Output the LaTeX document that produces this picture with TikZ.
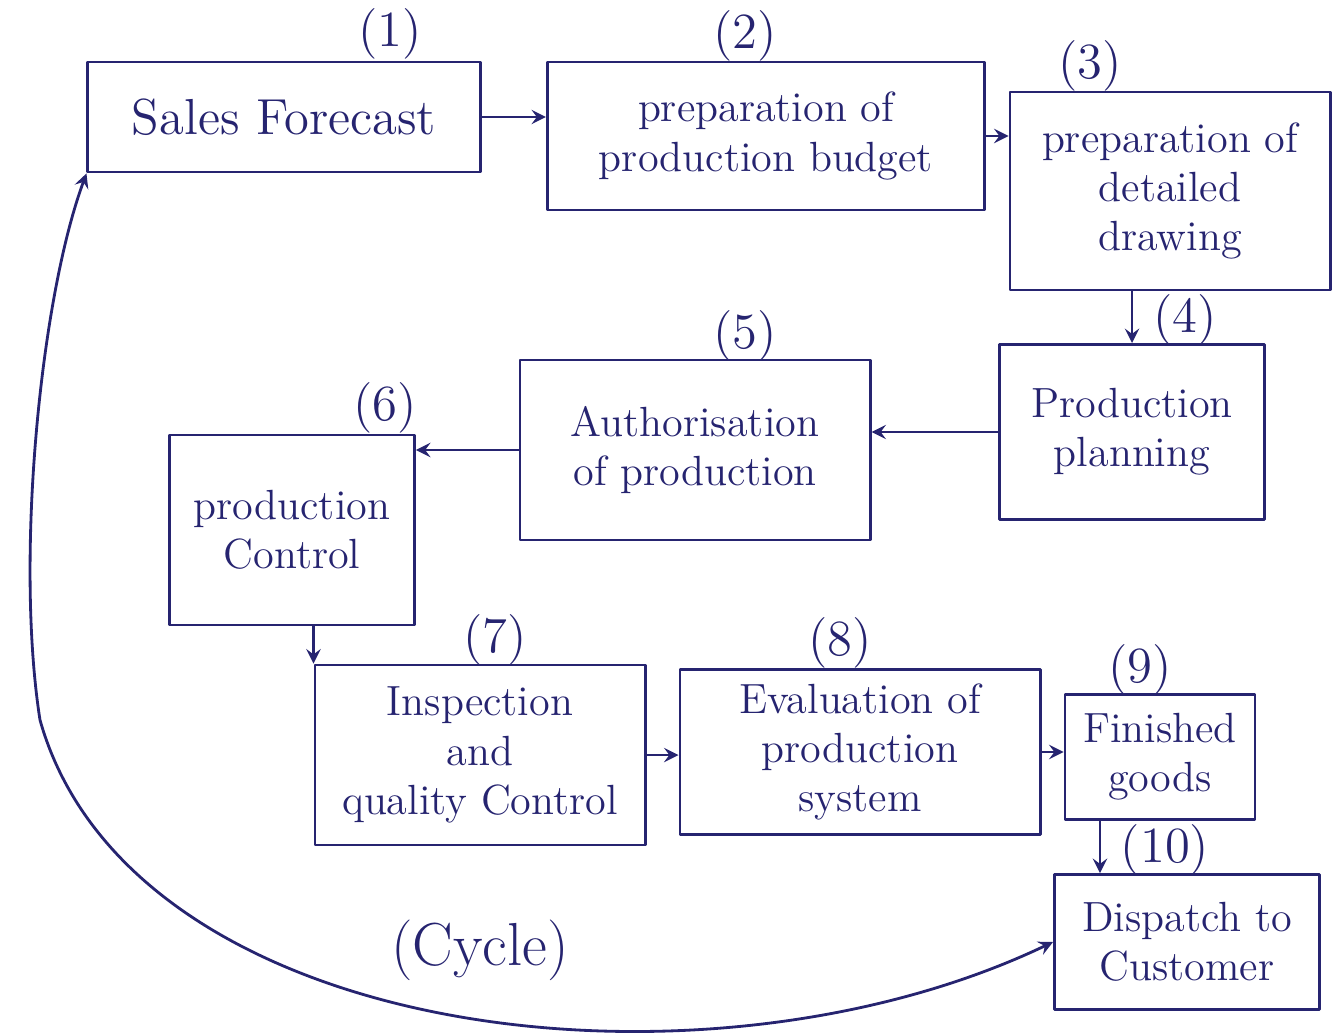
\documentclass[tikz,border=0pt]{standalone}
\usetikzlibrary{arrows.meta}
\definecolor{ink}{RGB}{38,36,112}
\begin{document}
\begin{tikzpicture}[line cap=round, line join=round, >=stealth, font=\large, x=0.01cm, y=-0.01cm,
	ink, thick,
	box/.style={draw, align=center, inner sep=3pt},
	num/.style={font=\Large}]
	
	% Khung hình
	\useasboundingbox (0,0) rectangle (1343,1034);
	
	% Các bước của chu trình
	\node[box, font=\Large, minimum width=3.92cm, minimum height=1.10cm] (b1) at (284,117) {Sales Forecast};
	\node[box, minimum width=4.37cm, minimum height=1.48cm] (b2) at (766,136) {preparation of\\ production budget};
	\node[box, minimum width=3.20cm, minimum height=1.98cm] (b3) at (1170,191) {preparation of\\ detailed\\ drawing};
	\node[box, minimum width=2.65cm, minimum height=1.75cm] (b4) at (1132,432) {Production\\ planning};
	\node[box, minimum width=3.50cm, minimum height=1.80cm] (b5) at (695,450) {Authorisation\\ of production};
	\node[box, minimum width=2.45cm, minimum height=1.90cm] (b6) at (292,530) {production\\ Control};
	\node[box, minimum width=3.30cm, minimum height=1.80cm] (b7) at (480,755) {Inspection\\ and\\ quality Control};
	\node[box, minimum width=3.60cm, minimum height=1.65cm] (b8) at (860,752) {Evaluation of\\ production\\ system};
	\node[box, minimum width=1.90cm, minimum height=1.25cm] (b9) at (1160,757) {Finished\\ goods};
	\node[box, minimum width=2.65cm, minimum height=1.35cm] (b10) at (1187,942) {Dispatch to\\ Customer};
	
	% Số thứ tự
	\node[num] (n1) at (390,34) {(1)};
	\node[num] (n2) at (745,36) {(2)};
	\node[num] (n3) at (1090,66) {(3)};
	\node[num] (n4) at (1185,320) {(4)};
	\node[num] (n5) at (745,336) {(5)};
	\node[num] (n6) at (385,408) {(6)};
	\node[num] (n7) at (495,640) {(7)};
	\node[num] (n8) at (840,643) {(8)};
	\node[num] (n9) at (1140,670) {(9)};
	\node[num] (n10) at (1165,850) {(10)};
	
	% Mũi tên nối các bước
	\draw[->] (b1.east) -- (b1.east -| b2.west);
	\draw[->] (b2.east) -- (b2.east -| b3.west);
	\draw[->] (b4.north |- b3.south) -- (b4.north);
	\draw[->] (b4.west) -- (b4.west -| b5.east);
	\draw[->] (b5.west) -- (b5.west -| b6.east);
	\draw[->] (b6.south -| b7.north west) -- (b7.north west);
	\draw[->] (b7.east) -- (b7.east -| b8.west);
	\draw[->] (b8.east) -- (b8.east -| b9.west);
	\draw[->] ([xshift=-0.6cm]b9.south) -- ([xshift=-0.6cm]b9.south |- b10.north);
	
	% Đường cong chu trình
	\draw[<->] (b10.west) .. controls (700,1110) and (130,1040) .. (40,720)
		.. controls (15,560) and (40,300) .. (b1.south west);
	\node (cyc) at (480,950) {\LARGE (Cycle)};
	
\end{tikzpicture}
\end{document}
